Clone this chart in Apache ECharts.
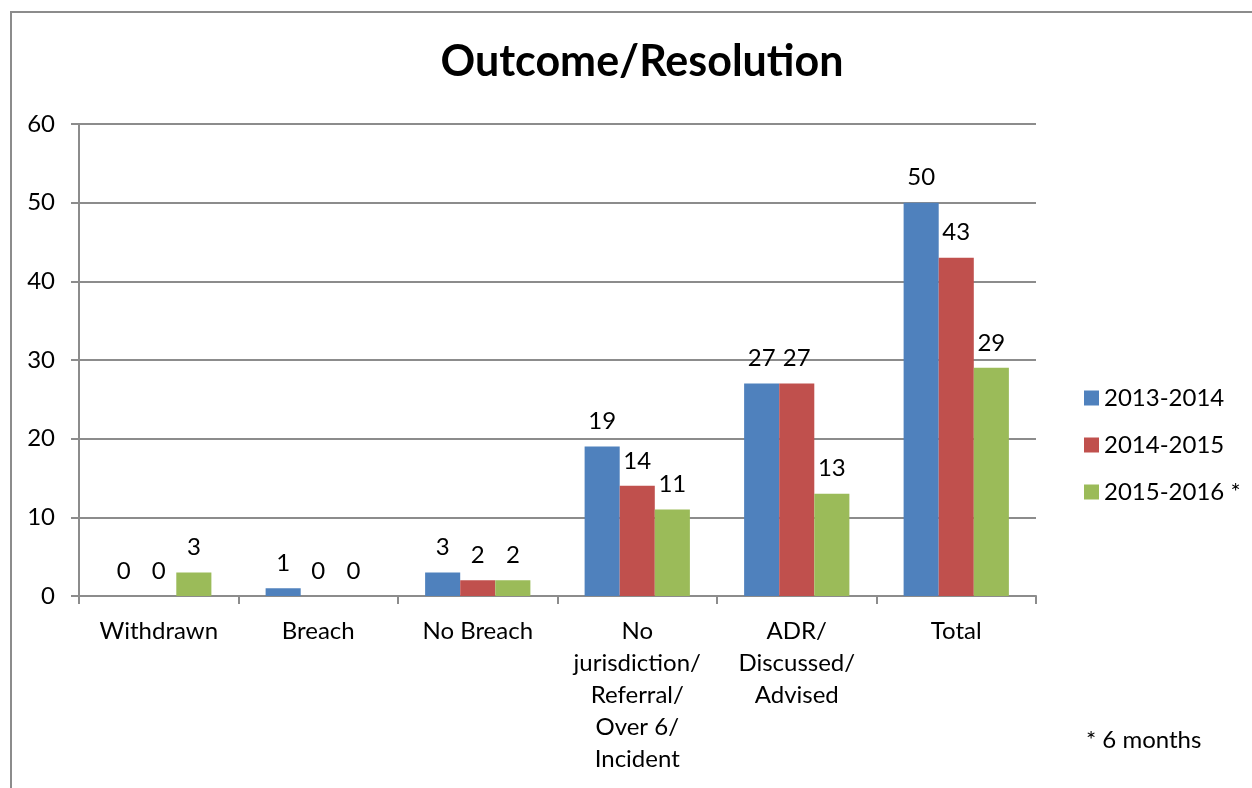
<!DOCTYPE html>
<html>
<head>
<meta charset="utf-8">
<script src="https://cdn.jsdelivr.net/npm/echarts@6/dist/echarts.min.js"></script>
<style>
  html, body { margin: 0; padding: 0; background: #fff; }
  #chart { width: 1252px; height: 788px; }
</style>
</head>
<body>
<div id="chart"></div>
<script>
// Outcome categories (line breaks as shown under the axis)
const categories = [
  'Withdrawn',
  'Breach',
  'No Breach',
  'No\njurisdiction/\nReferral/\nOver 6/\nIncident',
  'ADR/\nDiscussed/\nAdvised',
  'Total'
];
const seriesNames = ['2013-2014', '2014-2015', '2015-2016 *'];
const values2013 = [0, 1, 3, 19, 27, 50];
const values2014 = [0, 0, 2, 14, 27, 43];
const values2015 = [3, 0, 2, 11, 13, 29];
const yTicks = { min: 0, max: 60, interval: 10 };
const footnote = '* 6 months';

const colors = ['#4F81BD', '#C0504D', '#9BBB59'];
const FONT = 'Lato, "Open Sans", sans-serif';
const GRID_GREY = '#8c8c8c';

const chart = echarts.init(document.getElementById('chart'), null, { renderer: 'canvas' });

function barSeries(name, data, color) {
  return {
    name: name,
    type: 'bar',
    data: data,
    barGap: '0%',
    barCategoryGap: '34%',
    itemStyle: { color: color },
    label: {
      show: true,
      position: 'top',
      distance: 13,
      color: '#000',
      fontFamily: FONT,
      fontSize: 24
    }
  };
}

chart.setOption({
  animation: false,
  backgroundColor: '#fff',
  title: {
    text: 'Outcome/Resolution',
    left: 637,
    textAlign: 'center',
    top: 36,
    textStyle: { fontFamily: FONT, fontSize: 43, fontWeight: 'bold', color: '#000' }
  },
  legend: {
    orient: 'vertical',
    left: 1079,
    top: 381,
    icon: 'rect',
    itemWidth: 15,
    itemHeight: 15,
    itemGap: 23,
    textStyle: { fontFamily: FONT, fontSize: 24, color: '#000' },
    data: seriesNames
  },
  grid: { left: 79, right: 216, top: 124, bottom: 192, containLabel: false },
  xAxis: {
    type: 'category',
    data: categories,
    axisLine: { show: true, lineStyle: { color: GRID_GREY, width: 2 } },
    axisTick: { show: true, length: 8, lineStyle: { color: GRID_GREY, width: 2 } },
    axisLabel: {
      interval: 0,
      margin: 19,
      color: '#000',
      fontFamily: FONT,
      fontSize: 24,
      lineHeight: 32,
      align: 'center'
    }
  },
  yAxis: {
    type: 'value',
    min: yTicks.min,
    max: yTicks.max,
    interval: yTicks.interval,
    axisLine: { show: true, lineStyle: { color: GRID_GREY, width: 2 } },
    axisTick: { show: true, length: 8, lineStyle: { color: GRID_GREY, width: 2 } },
    splitLine: { show: true, lineStyle: { color: GRID_GREY, width: 2 } },
    axisLabel: { margin: 24, color: '#000', fontFamily: FONT, fontSize: 24 }
  },
  graphic: [
    {
      type: 'rect',
      shape: { x: 11, y: 12, width: 1400, height: 1000 },
      style: { fill: 'none', stroke: GRID_GREY, lineWidth: 2 },
      silent: true,
      z: -1
    },
    {
      type: 'text',
      left: 1086,
      top: 728,
      style: { text: footnote, fontFamily: FONT, fontSize: 24, fill: '#000' }
    }
  ],
  series: [
    barSeries(seriesNames[0], values2013, colors[0]),
    barSeries(seriesNames[1], values2014, colors[1]),
    barSeries(seriesNames[2], values2015, colors[2])
  ]
});
</script>
</body>
</html>
